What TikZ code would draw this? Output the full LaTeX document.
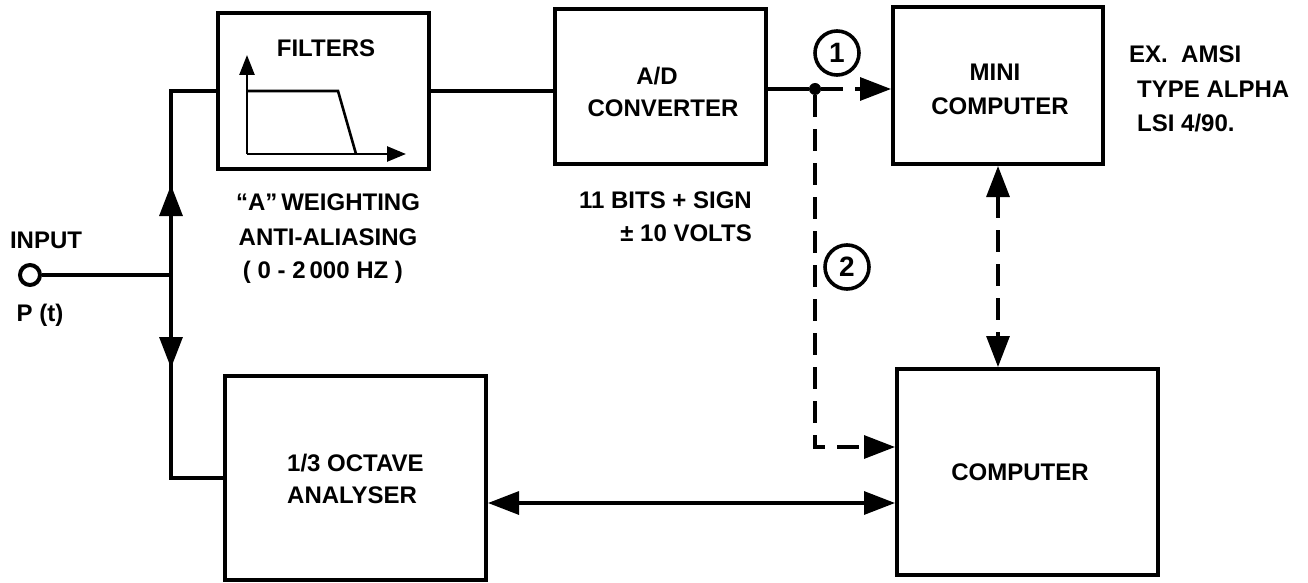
\documentclass[tikz,border=0pt]{standalone}
\usepackage{fontspec}
\setmainfont{Liberation Sans}
\usetikzlibrary{arrows.meta,calc}
\begin{document}
\begin{tikzpicture}[x=1pt,y=-1pt,
  box/.style={draw, line width=4pt, inner sep=0pt},
  txt/.style={font=\bfseries\fontsize{24}{28}\selectfont, inner sep=0pt, text height=17.2pt, text depth=0pt},
  con/.style={line width=3.2pt},
  dsh/.style={line width=3.2pt, dash pattern=on 22pt off 12pt},
  tip/.style={-{Triangle[length=31pt,width=23pt]}},
  tips/.style={{Triangle[length=31pt,width=23pt]}-{Triangle[length=31pt,width=23pt]}},
  numc/.style={circle, draw, line width=3.6pt, minimum size=44pt, inner sep=0pt, font=\bfseries\fontsize{28}{28}\selectfont},
  plot/.style={line width=2.6pt}
]
\useasboundingbox (0,0) rectangle (1308,583);
% boxes
\node[box, minimum width=211pt, minimum height=156pt] (filt) at (323.5,91) {};
\node[box, minimum width=211pt, minimum height=155pt] (ad) at (660.5,86.5) {};
\node[box, minimum width=210pt, minimum height=157pt] (mini) at (998,85.5) {};
\node[box, minimum width=261pt, minimum height=204pt] (ana) at (355.5,478) {};
\node[box, minimum width=261pt, minimum height=206pt] (comp) at (1027.5,472) {};
% box texts
\node[txt] (tfilt) at (326,48) {FILTERS};
\node[txt] (tad1) at (657,76) {A/D};
\node[txt] (tad2) at (663,108) {CONVERTER};
\node[txt] (tmini1) at (995,72) {MINI};
\node[txt] (tmini2) at (1000,106) {COMPUTER};
\node[txt, anchor=west] (tana1) at (287,463) {1/3 OCTAVE};
\node[txt, anchor=west] (tana2) at (287,495) {ANALYSER};
\node[txt] (tcomp) at (1020,472) {COMPUTER};
% side texts
\node[txt] (w1) at (328,202) {“A”\,WEIGHTING};
\node[txt] (w2) at (328,237) {ANTI-ALIASING};
\node[txt] (w3) at (323,270) {( 0 - 2\,000 HZ )};
\node[txt, anchor=east] (b1) at (752,200) {11 BITS + SIGN};
\node[txt, anchor=east] (b2) at (752,233) {± 10 VOLTS};
\node[txt, anchor=west] (e1) at (1129,54) {EX.\ \ AMSI};
\node[txt, anchor=west] (e2) at (1137,89) {TYPE ALPHA};
\node[txt, anchor=west] (e3) at (1137,123) {LSI 4/90.};
\node[txt] (tin) at (46,240) {INPUT};
\node[txt] (tp) at (40,313) {P (t)};
% filter plot
\draw[plot, -{Triangle[length=20pt,width=15pt]}] (247,154) -- (247,55);
\draw[plot, -{Triangle[length=19pt,width=15pt]}] (247,154) -- (406,154);
\draw[plot] (247,91) -- (338,91) -- (356,154);
% input
\node[circle, draw, line width=4pt, minimum size=20pt, inner sep=0pt] (in) at (30,275) {};
\coordinate (jn) at (171,275);
\coordinate (up) at (171,185);
\coordinate (dn) at (171,368);
\draw[con] (in) -- (jn);
\draw[con] (jn) |- (filt.west);
\draw[con] (jn) |- (ana.west);
\draw[con, tip] (jn) -- (up);
\draw[con, tip] (jn) -- (dn);
% chain
\draw[con] (filt.east) -- (filt.east -| ad.west);
\node[circle, fill, inner sep=0pt, minimum size=12pt] (dot) at (815,89) {};
\draw[con] (ad.east |- dot) -- (dot);
\draw[dsh, tip] (dot) -- (dot -| mini.west);
\draw[dsh, tip] (dot) |- ([yshift=25pt]comp.west);
\draw[dsh, tips] (mini.south) -- (mini.south |- comp.north);
\draw[con, tips] ([yshift=-25pt]ana.east) -- ([yshift=-25pt]ana.east -| comp.west);
% numbers
\node[numc] (n1) at (837,53) {1};
\node[numc] (n2) at (847,267) {2};
\end{tikzpicture}
\end{document}
